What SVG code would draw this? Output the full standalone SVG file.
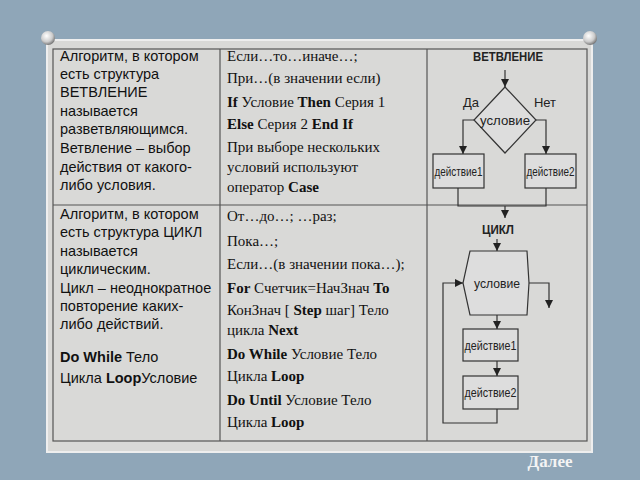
<svg xmlns="http://www.w3.org/2000/svg" width="640" height="480" viewBox="0 0 640 480">
<defs>
<marker id="ar" viewBox="0 0 10 10" refX="10" refY="5" markerWidth="7" markerHeight="7" orient="auto"><path d="M0,0L10,5L0,10z" fill="#222"/></marker>
<radialGradient id="pin" cx="0.4" cy="0.35" r="0.7"><stop offset="0" stop-color="#fff"/><stop offset="0.6" stop-color="#ccc"/><stop offset="1" stop-color="#666"/></radialGradient>
</defs>
<style>
.s{font-family:"Liberation Sans",Arial,sans-serif;font-size:14.5px;fill:#111}
.t{font-family:"Liberation Serif","Times New Roman",serif;font-size:15px;fill:#111}
.f{font-family:"Liberation Sans",Arial,sans-serif;font-size:13px;fill:#222}
.b{font-weight:bold}
.ln{stroke:#333;stroke-width:1.2;fill:none}
.bx{stroke:#333;stroke-width:1.2;fill:#ddd}
</style>
<rect width="640" height="480" fill="#8fa6b8"/>
<rect x="47" y="40" width="545" height="412" fill="#d9d9d7"/>
<rect x="47" y="40" width="545" height="412" fill="none" stroke="#eee" stroke-width="2"/>
<g id="table" stroke="#555" stroke-width="1.2" fill="none">
<rect x="53" y="49" width="534" height="392"/>
<line x1="220" y1="49" x2="220" y2="441"/>
<line x1="427" y1="49" x2="427" y2="441"/>
<line x1="53" y1="205" x2="587" y2="205"/>
</g>
<g id="cell1">
<text class="s" x="60" y="61">Алгоритм, в котором</text>
<text class="s" x="60" y="79">есть структура</text>
<text class="s" x="60" y="97">ВЕТВЛЕНИЕ</text>
<text class="s" x="60" y="116">называется</text>
<text class="s" x="60" y="134">разветвляющимся.</text>
<text class="s" x="60" y="153">Ветвление – выбор</text>
<text class="s" x="60" y="172">действия от какого-</text>
<text class="s" x="60" y="190">либо условия.</text>
</g>
<g id="cell2">
<text class="s" x="60" y="219">Алгоритм, в котором</text>
<text class="s" x="60" y="237">есть структура ЦИКЛ</text>
<text class="s" x="60" y="256">называется</text>
<text class="s" x="60" y="274">циклическим.</text>
<text class="s" x="60" y="293">Цикл – неоднократное</text>
<text class="s" x="60" y="311">повторение каких-</text>
<text class="s" x="60" y="329">либо действий.</text>
<text class="s" x="60" y="362"><tspan class="b">Do  While</tspan>  Тело</text>
<text class="s" x="60" y="383">Цикла <tspan class="b">Loop</tspan>Условие</text>
</g>
<g id="cell3">
<text class="t" x="227" y="61">Если…то…иначе…;</text>
<text class="t" x="227" y="83">При…(в значении если)</text>
<text class="t" x="227" y="107"><tspan class="b">If</tspan> Условие <tspan class="b">Then</tspan> Серия 1</text>
<text class="t" x="227" y="129"><tspan class="b">Else</tspan> Серия 2 <tspan class="b">End If</tspan></text>
<text class="t" x="227" y="152">При выборе нескольких</text>
<text class="t" x="227" y="172">условий  используют</text>
<text class="t" x="227" y="192">оператор  <tspan class="b">Case</tspan></text>
</g>
<g id="cell4">
<text class="t" x="227" y="221">От…до…;  …раз;</text>
<text class="t" x="227" y="246">Пока…;</text>
<text class="t" x="227" y="269">Если…(в значении пока…);</text>
<text class="t" x="227" y="293"><tspan class="b">For</tspan> Счетчик=НачЗнач <tspan class="b">To</tspan></text>
<text class="t" x="227" y="315">КонЗнач [ <tspan class="b">Step</tspan> шаг] Тело</text>
<text class="t" x="227" y="335">цикла <tspan class="b">Next</tspan></text>
<text class="t" x="227" y="359"><tspan class="b">Do  While</tspan> Условие Тело</text>
<text class="t" x="227" y="381">Цикла  <tspan class="b">Loop</tspan></text>
<text class="t" x="227" y="405"><tspan class="b">Do  Until</tspan> Условие Тело</text>
<text class="t" x="227" y="427">Цикла <tspan class="b">Loop</tspan></text>
</g>
<g id="branch">
<text class="f b" x="508" y="61" text-anchor="middle" font-size="15" textLength="70" lengthAdjust="spacingAndGlyphs">ВЕТВЛЕНИЕ</text>
<polygon class="bx" points="505,87 536,120 505,153 474,120"/>
<text class="f" x="505" y="125" text-anchor="middle" font-size="14" textLength="50" lengthAdjust="spacingAndGlyphs">условие</text>
<text class="f" x="471" y="107" text-anchor="middle" font-size="14">Да</text>
<text class="f" x="545" y="107" text-anchor="middle" font-size="14">Нет</text>
<rect class="bx" x="433" y="154" width="51" height="34"/>
<text class="f" x="458.5" y="176" text-anchor="middle" textLength="48" lengthAdjust="spacingAndGlyphs">действие1</text>
<rect class="bx" x="525" y="154" width="51" height="34"/>
<text class="f" x="550.5" y="176" text-anchor="middle" textLength="48" lengthAdjust="spacingAndGlyphs">действие2</text>
</g>
<g id="loop">
<text class="f b" x="498" y="234" text-anchor="middle" font-size="15" textLength="32" lengthAdjust="spacingAndGlyphs">ЦИКЛ</text>
<polygon class="bx" points="470,251 527,251 529,283 527,315 470,315 463,283"/>
<text class="f" x="497" y="288" text-anchor="middle" font-size="14" textLength="46" lengthAdjust="spacingAndGlyphs">условие</text>
<rect class="bx" x="463" y="329" width="55" height="32"/>
<text class="f" x="490.5" y="350" text-anchor="middle" textLength="52" lengthAdjust="spacingAndGlyphs">действие1</text>
<rect class="bx" x="463" y="376" width="55" height="33"/>
<text class="f" x="490.5" y="397" text-anchor="middle" textLength="52" lengthAdjust="spacingAndGlyphs">действие2</text>
</g>
<g id="connectors" class="ln">
<line x1="505" y1="70" x2="505" y2="87" marker-end="url(#ar)"/>
<polyline points="474,120 463,120 463,154" marker-end="url(#ar)"/>
<polyline points="536,120 546,120 546,154" marker-end="url(#ar)"/>
<polyline points="458,188 458,206 546,206 546,188"/>
<line x1="505" y1="206" x2="505" y2="218" marker-end="url(#ar)"/>
<line x1="497" y1="239" x2="497" y2="251" marker-end="url(#ar)"/>
<polyline points="529,283 549,283 549,308" marker-end="url(#ar)"/>
<line x1="497" y1="315" x2="497" y2="329" marker-end="url(#ar)"/>
<line x1="497" y1="361" x2="497" y2="376" marker-end="url(#ar)"/>
<polyline points="497,409 497,423 443,423 443,283 463,283" marker-end="url(#ar)"/>
</g>
<circle cx="48" cy="38" r="7" fill="url(#pin)"/>
<circle cx="590" cy="38" r="7" fill="url(#pin)"/>
<text x="550" y="467" text-anchor="middle" font-family="Liberation Serif,serif" font-size="17" font-weight="bold" fill="#f4f4f4">Далее</text>
</svg>
